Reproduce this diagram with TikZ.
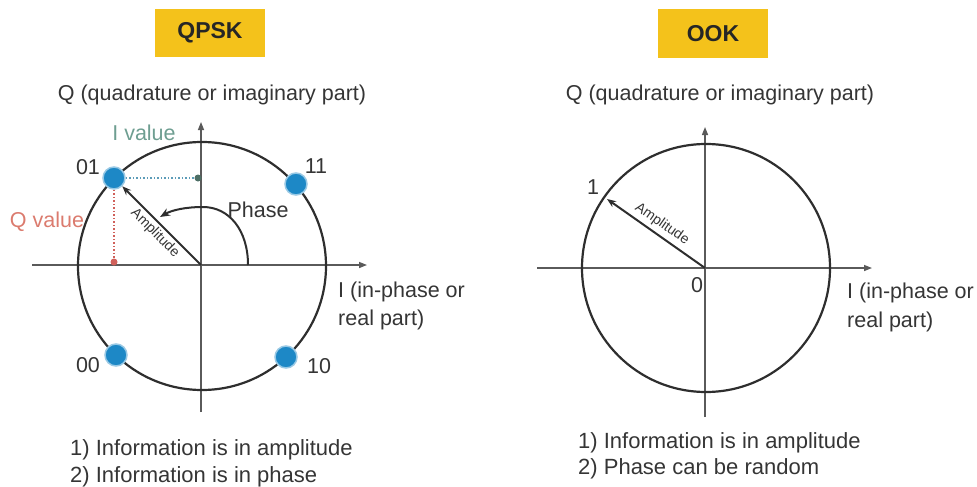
\documentclass[tikz,border=0pt]{standalone}
\usepackage{fontspec}
\setmainfont{Liberation Sans}
\usetikzlibrary{arrows.meta}
\definecolor{txt}{HTML}{353535}
\definecolor{axisc}{HTML}{5A5A5A}
\definecolor{circc}{HTML}{2E2E2E}
\definecolor{boxy}{HTML}{F4C21B}
\definecolor{dotb}{HTML}{1D88C6}
\definecolor{ival}{HTML}{6E9E91}
\definecolor{ivline}{HTML}{5C9CB8}
\definecolor{qval}{HTML}{DB7B6E}
\definecolor{qvline}{HTML}{D0605A}
\begin{document}
\begin{tikzpicture}[x=1pt,y=-1pt,
  lbl/.style={font=\fontsize{21.5}{25}\selectfont, text=txt, inner sep=0pt},
  foot/.style={font=\fontsize{22}{26}\selectfont, text=txt, inner sep=0pt, anchor=base west},
  small/.style={font=\fontsize{14}{16}\selectfont, text=txt, inner sep=0pt},
  titlebox/.style={fill=boxy, minimum width=110pt, minimum height=48pt, inner sep=0pt,
    font=\fontsize{23}{26}\selectfont\bfseries, text=black!85},
  axisline/.style={draw=axisc, line width=1.4pt},
  axisarrow/.style={axisline, -{Triangle[length=8pt,width=6pt]}},
  circline/.style={draw=circc, line width=2.2pt},
  sym/.style={circle, fill=dotb, draw=dotb!45, line width=1.5pt, minimum size=22pt, inner sep=0pt},
  ampar/.style={draw=circc, line width=2pt, -{Stealth[length=9pt,width=7pt]}},
  phasear/.style={draw=circc, line width=2pt, -{Stealth[length=10pt,width=8pt]}},
  ivl/.style={draw=ivline, line width=1.5pt, dotted},
  qvl/.style={draw=qvline, line width=1.5pt, dotted},
  ivm/.style={circle, fill=ival!70!black, minimum size=7pt, inner sep=0pt},
  qvm/.style={circle, fill=qvline, minimum size=7pt, inner sep=0pt}
]
\useasboundingbox (0,0) rectangle (977,487);

% ---------------- QPSK ----------------
\node[titlebox] (t1) at (210,33) {QPSK};
\node[lbl] (qlab1) at (212,95) {Q (quadrature or imaginary part)};

\coordinate (O1) at (201,265);
\coordinate (xl1) at (32,265);
\coordinate (xr1) at (367,265);
\coordinate (yb1) at (201,412);
\coordinate (yt1) at (201,122);
\draw[axisarrow] (xl1) -- (xr1);
\draw[axisarrow] (yb1) -- (yt1);
\coordinate (C1) at (202,266);
\draw[circline] (C1) circle[radius=124];

\node[lbl, anchor=base west] (il1a) at (338,297) {I (in-phase or};
\node[lbl, anchor=base west] (il1b) at (338,325) {real part)};

% I value / Q value guides
\node[ivm] (ivm) at (198,178) {};
\node[qvm] (qvm) at (114,262) {};
\node[sym] (d01) at (114,178) {};
\draw[ivl] (d01) -- (ivm);
\draw[qvl] (d01) -- (qvm);
\node[sym] (d11) at (296,184) {};
\node[sym] (d00) at (116,355) {};
\node[sym] (d10) at (286,357) {};

\node[lbl] (l01) at (88,167) {01};
\node[lbl] (l11) at (316,166) {11};
\node[lbl] (l00) at (88,365) {00};
\node[lbl] (l10) at (319,366) {10};

\node[lbl, text=ival] (ivt) at (144,133) {I value};
\node[lbl, text=qval] (qvt) at (47,222) {Q value};

\draw[ampar] (O1) -- (d01);
\node[small, rotate=-45] (amp1) at (155,233) {Amplitude};

\coordinate (ph1) at (248,265);
\coordinate (ph2) at (203,207);
\coordinate (ph3) at (160,217);
\draw[phasear] (ph1) .. controls (248,230) and (229,207) .. (ph2)
  .. controls (186,207) and (172,210) .. (ph3);
\node[lbl] (phase) at (258,210) {Phase};

\node[foot] (f1a) at (70,455) {1) Information is in amplitude};
\node[foot] (f1b) at (70,482) {2) Information is in phase};

% ---------------- OOK ----------------
\node[titlebox, minimum height=49pt] (t2) at (713,33.5) {OOK};
\node[lbl] (qlab2) at (720,95) {Q (quadrature or imaginary part)};

\coordinate (O2) at (705,268);
\coordinate (xl2) at (537,268);
\coordinate (xr2) at (872,268);
\coordinate (yb2) at (705,417);
\coordinate (yt2) at (705,127);
\draw[axisarrow] (xl2) -- (xr2);
\draw[axisarrow] (yb2) -- (yt2);
\coordinate (C2) at (706,268);
\draw[circline] (C2) circle[radius=124];

\node[lbl, anchor=base west] (il2a) at (847,298) {I (in-phase or};
\node[lbl, anchor=base west] (il2b) at (847,327) {real part)};

\coordinate (a2) at (607,199);
\draw[ampar] (O2) -- (a2);
\node[small, rotate=-35] (amp2) at (662,224) {Amplitude};
\node[lbl] (one) at (593,187) {1};
\node[lbl] (zero) at (697,285) {0};

\node[foot] (f2a) at (578,448) {1) Information is in amplitude};
\node[foot] (f2b) at (578,474) {2) Phase can be random};
\end{tikzpicture}
\end{document}
